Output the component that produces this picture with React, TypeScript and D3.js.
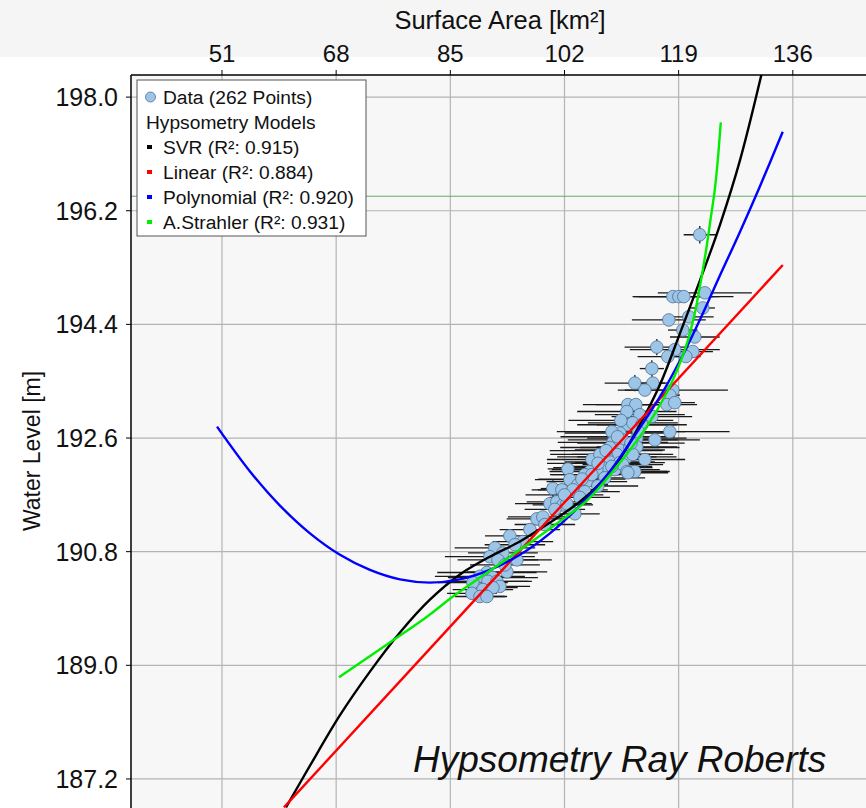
import React from 'react';
import * as d3 from 'd3';

const W = 866;
const H = 808;

const xTicks = [51, 68, 85, 102, 119, 136];
const yTicks = [187.2, 189.0, 190.8, 192.6, 194.4, 196.2, 198.0];

const xLabel = 'Surface Area [km²]';
const yLabel = 'Water Level [m]';
const title = 'Hypsometry Ray Roberts';

const legendItems = [
  { label: 'SVR (R²: 0.915)', color: '#000000' },
  { label: 'Linear (R²: 0.884)', color: '#ff0000' },
  { label: 'Polynomial (R²: 0.920)', color: '#0000ff' },
  { label: 'A.Strahler (R²: 0.931)', color: '#00ee00' },
];

const refLevel = 196.43;

// measured data (area km², level m, area error, level error)
const dataArea = [122.15, 118.14, 119.03, 119.77, 122.9, 122.6, 117.54, 120.52, 119.62, 121.41, 115.75, 118.43, 121.11, 117.39, 120.07, 115.01, 112.48, 115.16, 113.97, 118.14, 117.69, 111.44, 112.63, 117.24, 118.43, 111.29, 113.22, 115.01, 111.29, 112.18, 110.25, 109.06, 117.69, 110.69, 112.78, 109.2, 108.76, 110.25, 111.73, 112.78, 109.8, 111.29, 112.18, 108.31, 108.76, 110.25, 109.5, 110.69, 111.29, 107.72, 106.82, 105.78, 112.48, 111.44, 109.06, 105.04, 108.01, 102.51, 102.8, 103.99, 100.27, 101.61, 103.25, 105.33, 106.08, 99.83, 100.87, 101.76, 102.36, 103.55, 100.57, 97.89, 98.78, 93.87, 95.81, 91.64, 92.83, 90.89, 92.09, 94.91, 93.43, 90.45, 91.34, 89.41, 90.6, 91.94, 88.36, 92.38, 89.85, 91.34, 88.22, 89.41, 90.45, 105.04, 104.29, 106.97, 99.08, 96.85, 94.62, 93.13, 106.08, 107.27, 113.52, 113.97, 115.46, 109.9, 111.9, 110.4, 108.2, 107.0, 113.0, 104.6, 102.0];
const dataLevel = [195.82, 194.84, 194.84, 194.84, 194.9, 194.66, 194.47, 194.52, 194.31, 194.2, 194.04, 194.0, 193.97, 193.89, 193.89, 193.7, 193.47, 193.47, 193.36, 193.36, 193.28, 193.13, 193.13, 193.13, 193.16, 193.02, 192.97, 192.94, 192.81, 192.84, 192.68, 192.7, 192.7, 192.57, 192.6, 192.53, 192.45, 192.41, 192.45, 192.46, 192.34, 192.3, 192.34, 192.3, 192.22, 192.21, 192.1, 192.18, 192.07, 192.13, 192.1, 192.07, 192.07, 192.05, 192.15, 192.02, 191.97, 192.11, 191.94, 191.86, 191.8, 191.78, 191.78, 191.91, 192.02, 191.56, 191.59, 191.54, 191.56, 191.4, 191.47, 191.32, 191.35, 191.05, 190.96, 190.86, 190.78, 190.72, 190.67, 190.67, 190.48, 190.47, 190.39, 190.41, 190.33, 190.33, 190.31, 190.25, 190.2, 190.23, 190.14, 190.09, 190.09, 191.75, 191.66, 191.84, 191.23, 191.15, 190.91, 190.59, 192.26, 192.34, 192.81, 192.26, 192.57, 192.62, 192.52, 192.88, 192.4, 192.2, 192.7, 191.95, 191.7];
const dataAreaErr = [2.4, 6.0, 6.0, 7.4, 7.0, 1.8, 5.5, 3.7, 2.2, 3.7, 4.8, 6.7, 3.0, 4.5, 2.2, 1.8, 4.5, 2.2, 3.0, 8.2, 1.5, 6.7, 6.0, 4.5, 3.0, 7.4, 6.7, 6.0, 7.4, 6.7, 8.2, 8.2, 8.9, 8.2, 7.4, 8.2, 7.4, 6.7, 7.4, 6.0, 6.7, 7.4, 6.0, 7.4, 6.7, 6.7, 6.7, 6.0, 6.0, 7.4, 6.7, 6.0, 5.2, 6.0, 6.0, 5.2, 6.0, 3.0, 5.2, 4.5, 1.8, 4.5, 5.2, 6.0, 6.0, 5.2, 4.5, 4.5, 3.7, 3.7, 4.5, 4.5, 5.2, 3.7, 4.5, 6.0, 5.2, 6.7, 6.0, 5.2, 6.0, 7.4, 6.7, 6.7, 6.0, 5.2, 5.2, 4.5, 4.5, 3.7, 3.7, 3.7, 3.0, 5.2, 4.5, 6.0, 4.5, 4.5, 4.5, 5.2, 6.7, 7.4, 6.7, 6.0, 6.7, 8.5, 8.0, 7.8, 8.4, 7.6, 7.0, 6.5, 5.8];
const dataLevelErr = [0.14, 0, 0, 0, 0, 0.05, 0, 0, 0.05, 0, 0.13, 0, 0, 0, 0, 0.13, 0.13, 0, 0, 0, 0, 0, 0, 0, 0, 0, 0, 0, 0, 0, 0, 0, 0, 0, 0, 0, 0, 0, 0, 0, 0, 0, 0, 0, 0, 0, 0, 0, 0.05, 0, 0, 0, 0.05, 0, 0, 0, 0, 0, 0, 0, 0.13, 0, 0, 0, 0, 0, 0, 0, 0, 0.05, 0, 0, 0, 0, 0, 0, 0, 0, 0, 0, 0, 0, 0, 0, 0, 0, 0, 0, 0, 0, 0, 0, 0, 0, 0, 0, 0, 0, 0, 0, 0, 0, 0, 0, 0, 0, 0, 0, 0, 0, 0, 0, 0];

// model curves
const svrArea = [60.53, 64.1, 68.57, 73.03, 77.5, 81.96, 86.43, 90.89, 95.36, 99.83, 104.29, 107.27, 110.25, 113.22, 116.2, 119.17, 122.15, 125.13, 128.11, 131.38];
const svrLevel = [186.75, 187.41, 188.21, 188.9, 189.52, 190.04, 190.44, 190.72, 190.96, 191.26, 191.59, 191.88, 192.27, 192.81, 193.44, 194.25, 195.09, 195.97, 196.99, 198.38];

const linearArea = [60.23, 134.51];
const linearLevel = [186.75, 195.34];

const polyArea = [50.26, 55.17, 59.63, 64.1, 68.57, 73.03, 77.5, 81.96, 86.43, 90.89, 95.36, 99.83, 104.29, 108.76, 113.22, 116.2, 119.17, 122.15, 125.13, 128.11, 131.08, 134.5];
const polyLevel = [192.78, 192.07, 191.53, 191.09, 190.75, 190.51, 190.36, 190.31, 190.36, 190.51, 190.75, 191.09, 191.53, 192.07, 192.76, 193.25, 193.82, 194.47, 195.17, 195.86, 196.58, 197.45];

const strahlerArea = [68.42, 75.56, 81.52, 85.39, 89.41, 95.36, 100.27, 105.33, 109.2, 114.26, 117.24, 119.17, 120.36, 121.41, 122.15, 123.05, 123.79, 124.38, 124.83, 125.13, 125.28];
const strahlerLevel = [188.81, 189.33, 189.77, 190.09, 190.39, 190.83, 191.2, 191.61, 192.07, 192.78, 193.32, 193.78, 194.14, 194.58, 194.99, 195.55, 196.09, 196.53, 197.0, 197.4, 197.6];

const sans = "'Liberation Sans', Arial, sans-serif";

export default function App() {
  const left = 131, top = 75;
  const x = d3.scaleLinear().domain([37.45, 146.9]).range([left, W]);
  const y = d3.scaleLinear().domain([186.74, 198.35]).range([H, top]);

  const line = d3
    .line<[number, number]>()
    .x((d) => x(d[0]))
    .y((d) => y(d[1]))
    .curve(d3.curveCatmullRom.alpha(0.5));

  const models = [
    { a: svrArea, l: svrLevel, c: legendItems[0].color },
    { a: linearArea, l: linearLevel, c: legendItems[1].color },
    { a: polyArea, l: polyLevel, c: legendItems[2].color },
    { a: strahlerArea, l: strahlerLevel, c: legendItems[3].color },
  ];

  const pts = dataArea.map((a, i) => ({ a, l: dataLevel[i], ea: dataAreaErr[i], el: dataLevelErr[i] }));

  const lgX = 137, lgY = 80, lgRow = 25;
  const lgFont = 19.2;

  return (
    <svg width={W} height={H} style={{ position: 'absolute', left: 0, top: 0, background: '#ffffff' }}>
      <defs>
        <clipPath id="plotclip">
          <rect x={left} y={top} width={W - left} height={H - top} />
        </clipPath>
      </defs>
      <rect x={0} y={0} width={W} height={57} fill="#f5f5f5" />
      <rect x={left} y={top} width={W - left} height={H - top} fill="#f7f7f7" />

      {/* grid */}
      <g stroke="#b4b4b4" strokeWidth={1.2}>
        {xTicks.map((t) => (
          <line key={'gx' + t} x1={x(t)} x2={x(t)} y1={top} y2={H} />
        ))}
        {yTicks.map((t) => (
          <line key={'gy' + t} x1={left} x2={W} y1={y(t)} y2={y(t)} />
        ))}
      </g>

      <line x1={left} x2={W} y1={y(refLevel)} y2={y(refLevel)} stroke="#6aa86a" strokeWidth={1} />

      <g clipPath="url(#plotclip)">
        {/* error bars */}
        <g stroke="#1a1a1a" strokeWidth={1.3}>
          {pts.map((p, i) => (
            <line key={'ex' + i} x1={x(p.a - p.ea)} x2={x(p.a + p.ea)} y1={y(p.l)} y2={y(p.l)} />
          ))}
          {pts.filter((p) => p.el > 0).map((p, i) => (
            <line key={'ey' + i} x1={x(p.a)} x2={x(p.a)} y1={y(p.l - p.el)} y2={y(p.l + p.el)} />
          ))}
        </g>
        {pts.map((p, i) => (
          <circle key={'pt' + i} cx={x(p.a)} cy={y(p.l)} r={6.3} fill="#9cc5e8" stroke="#4d6f8f" strokeWidth={0.8} />
        ))}
        {models.map((m, i) => (
          <path
            key={'m' + i}
            d={line(m.a.map((a, j) => [a, m.l[j]] as [number, number])) || ''}
            fill="none"
            stroke={m.c}
            strokeWidth={2.4}
            strokeLinejoin="round"
          />
        ))}
      </g>

      {/* frame */}
      <line x1={left} x2={W} y1={top} y2={top} stroke="#000" strokeWidth={1.5} />
      <line x1={left} x2={left} y1={top} y2={H} stroke="#000" strokeWidth={1.5} />

      {/* top axis */}
      {xTicks.map((t) => (
        <g key={'xt' + t}>
          <line x1={x(t)} x2={x(t)} y1={top - 5} y2={top} stroke="#000" strokeWidth={1} />
          <text x={x(t)} y={62} textAnchor="middle" fontFamily={sans} fontSize={24} fill="#111">
            {t}
          </text>
        </g>
      ))}
      <text x={500} y={29} textAnchor="middle" fontFamily={sans} fontSize={25.5} fill="#111">
        {xLabel}
      </text>

      {/* left axis */}
      {yTicks.map((t) => (
        <g key={'yt' + t}>
          <line x1={left - 5} x2={left} y1={y(t)} y2={y(t)} stroke="#000" strokeWidth={1} />
          <text x={118} y={y(t) + 9} textAnchor="end" fontFamily={sans} fontSize={25} fill="#111">
            {t.toFixed(1)}
          </text>
        </g>
      ))}
      <text
        transform={`translate(40, 451) rotate(-90)`}
        textAnchor="middle"
        fontFamily={sans}
        fontSize={23}
        fill="#111"
      >
        {yLabel}
      </text>

      {/* title */}
      <text x={413} y={772} fontFamily={sans} fontStyle="italic" fontSize={37} fill="#111">
        {title}
      </text>

      {/* legend */}
      <g>
        <rect x={lgX} y={lgY} width={229} height={156} fill="#ffffff" stroke="#555" strokeWidth={1} />
        <circle cx={150.5} cy={lgY + 17} r={5} fill="#9cc5e8" stroke="#4d6f8f" strokeWidth={0.8} />
        <text x={163} y={lgY + 17 + 7} fontFamily={sans} fontSize={lgFont} fill="#111">
          Data (262 Points)
        </text>
        <text x={146} y={lgY + 17 + lgRow + 7} fontFamily={sans} fontSize={lgFont} fill="#111">
          Hypsometry Models
        </text>
        {legendItems.map((it, i) => (
          <g key={'lg' + i}>
            <rect x={147} y={lgY + 17 + lgRow * (i + 2) - 2} width={5} height={4} fill={it.color} />
            <text x={163} y={lgY + 17 + lgRow * (i + 2) + 7} fontFamily={sans} fontSize={lgFont} fill="#111">
              {it.label}
            </text>
          </g>
        ))}
      </g>
    </svg>
  );
}
